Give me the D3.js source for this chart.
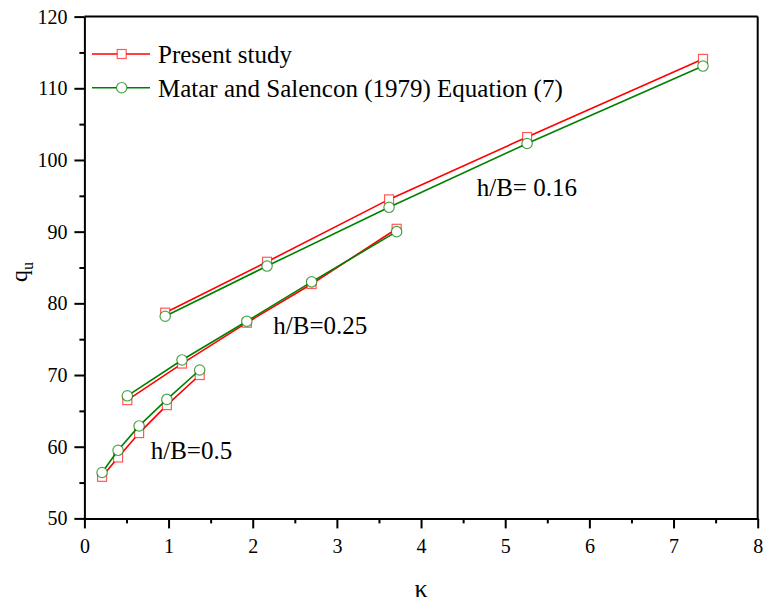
<!DOCTYPE html>
<html>
<head>
<meta charset="utf-8">
<script src="https://d3js.org/d3.v7.min.js"></script>
<style>
  body { margin: 0; background: #fff; }
</style>
</head>
<body>
<div id="chart"></div>
<script>
// values, one array per curve
var kappa016 = [0.96, 2.17, 3.62, 5.26, 7.35];
var present016 = [78.7, 85.8, 94.5, 103.2, 114.1];
var matar016 = [78.2, 85.2, 93.4, 102.3, 113.1];

var kappa025 = [0.51, 1.16, 1.93, 2.70, 3.71];
var present025 = [66.5, 71.6, 77.3, 82.7, 90.4];
var matar025 = [67.1, 72.1, 77.5, 83.0, 90.0];

var kappa05 = [0.21, 0.40, 0.65, 0.98, 1.37];
var present05 = [55.8, 58.5, 61.9, 65.8, 70.0];
var matar05 = [56.4, 59.5, 62.9, 66.6, 70.7];

var xTicks = [0, 1, 2, 3, 4, 5, 6, 7, 8];
var yTicks = [50, 60, 70, 80, 90, 100, 110, 120];
var seriesNames = ["Present study", "Matar and Salencon (1979) Equation (7)"];
var curveLabels = ["h/B= 0.16", "h/B=0.25", "h/B=0.5"];

var width = 763, height = 602;
var margin = {left: 84.4, top: 16.6, right: 5.3, bottom: 83.6};
var w = width - margin.left - margin.right,
    h = height - margin.top - margin.bottom;

var red = "#ff0000", green = "#008000";
var serif = "'Liberation Serif', 'Times New Roman', 'DejaVu Serif', serif";

var svg = d3.select("#chart").append("svg")
    .attr("width", width)
    .attr("height", height)
    .attr("font-family", serif);

var g = svg.append("g")
    .attr("transform", "translate(" + margin.left + "," + margin.top + ")");

var x = d3.scaleLinear().domain([0, 8]).range([0, w]);
var y = d3.scaleLinear().domain([50, 120]).range([h, 0]);

// minor ticks first, then the main axes
var minorX = d3.range(0.5, 8, 1), minorY = d3.range(55, 120, 10);

g.append("g")
    .attr("transform", "translate(0," + h + ")")
    .call(d3.axisBottom(x).tickValues(minorX).tickSize(5).tickFormat(""))
    .call(function(s) { s.select(".domain").remove(); });

g.append("g")
    .call(d3.axisLeft(y).tickValues(minorY).tickSize(5).tickFormat(""))
    .call(function(s) { s.select(".domain").remove(); });

var xAxis = g.append("g")
    .attr("transform", "translate(0," + h + ")")
    .call(d3.axisBottom(x).tickValues(xTicks).tickSize(10).tickPadding(10).tickSizeOuter(0));

var yAxis = g.append("g")
    .call(d3.axisLeft(y).tickValues(yTicks).tickSize(10).tickPadding(7).tickSizeOuter(0));

// d3 puts sans-serif on each axis group, so set the serif font back
g.selectAll("g").attr("font-family", serif).attr("font-size", 20);

g.selectAll(".tick line, .domain")
    .attr("stroke", "#000")
    .attr("stroke-width", 2);

g.selectAll(".tick text")
    .attr("fill", "#000")
    .style("font-family", serif)
    .style("font-size", "20px");

// top and right frame lines
g.append("line")
    .attr("x1", 0).attr("x2", w).attr("y1", 0).attr("y2", 0)
    .attr("stroke", "#000").attr("stroke-width", 2);
g.append("line")
    .attr("x1", w).attr("x2", w).attr("y1", 0).attr("y2", h)
    .attr("stroke", "#000").attr("stroke-width", 2);

// axis titles
svg.append("text")
    .attr("x", margin.left + x(4))
    .attr("y", 597)
    .attr("text-anchor", "middle")
    .style("font-size", "26px")
    .text("κ");

var yt = svg.append("text")
    .attr("transform", "translate(27," + 272 + ") rotate(-90)")
    .attr("text-anchor", "middle")
    .style("font-size", "24px");
yt.append("tspan").text("q");
yt.append("tspan").attr("dy", 6).style("font-size", "16px").text("u");

var line = d3.line()
    .x(function(d) { return x(d[0]); })
    .y(function(d) { return y(d[1]); });

function drawSeries(ks, vs, color, shape) {
  var pts = ks.map(function(k, i) { return [k, vs[i]]; });
  g.append("path")
      .datum(pts)
      .attr("d", line)
      .attr("fill", "none")
      .attr("stroke", color)
      .attr("stroke-width", 1.6);
  drawMarkers(pts, color, shape);
}

function drawMarkers(pts, color, shape) {
  if (shape == "square") {
    g.selectAll(null)
        .data(pts)
      .enter().append("rect")
        .attr("x", function(d) { return x(d[0]) - 4.5; })
        .attr("y", function(d) { return y(d[1]) - 4.5; })
        .attr("width", 9)
        .attr("height", 9)
        .attr("fill", "#fff")
        .attr("stroke", color)
        .attr("stroke-opacity", 0.65)
        .attr("stroke-width", 1.2);
  } else {
    g.selectAll(null)
        .data(pts)
      .enter().append("circle")
        .attr("cx", function(d) { return x(d[0]); })
        .attr("cy", function(d) { return y(d[1]); })
        .attr("r", 5.2)
        .attr("fill", "#fff")
        .attr("stroke", color)
        .attr("stroke-opacity", 0.7)
        .attr("stroke-width", 1.2);
  }
}

drawSeries(kappa016, present016, red, "square");
drawSeries(kappa025, present025, red, "square");
drawSeries(kappa05, present05, red, "square");
drawSeries(kappa016, matar016, green, "circle");
drawSeries(kappa025, matar025, green, "circle");
drawSeries(kappa05, matar05, green, "circle");

// curve labels
var labelPos = [[476.7, 196], [273.3, 334], [150.7, 459.3]];
svg.selectAll(".curve-label")
    .data(curveLabels)
  .enter().append("text")
    .attr("class", "curve-label")
    .attr("x", function(d, i) { return labelPos[i][0]; })
    .attr("y", function(d, i) { return labelPos[i][1]; })
    .style("font-size", "25px")
    .text(function(d) { return d; });

// legend
var legend = svg.selectAll(".legend")
    .data(seriesNames)
  .enter().append("g")
    .attr("class", "legend")
    .attr("transform", function(d, i) { return "translate(92," + (54 + i * 33.7) + ")"; });

legend.append("line")
    .attr("x1", 0).attr("x2", 58)
    .attr("stroke", function(d, i) { return i ? green : red; })
    .attr("stroke-width", 1.6);

legend.each(function(d, i) {
  var s = d3.select(this);
  if (i == 0) {
    s.append("rect").attr("x", 25.2).attr("y", -4.5).attr("width", 9).attr("height", 9)
        .attr("fill", "#fff").attr("stroke", red).attr("stroke-opacity", 0.65).attr("stroke-width", 1.2);
  } else {
    s.append("circle").attr("cx", 29.7).attr("r", 5.2)
        .attr("fill", "#fff").attr("stroke", green).attr("stroke-opacity", 0.7).attr("stroke-width", 1.2);
  }
});

legend.append("text")
    .attr("x", 66)
    .attr("y", 9)
    .style("font-size", "25px")
    .text(function(d) { return d; });
</script>
</body>
</html>
